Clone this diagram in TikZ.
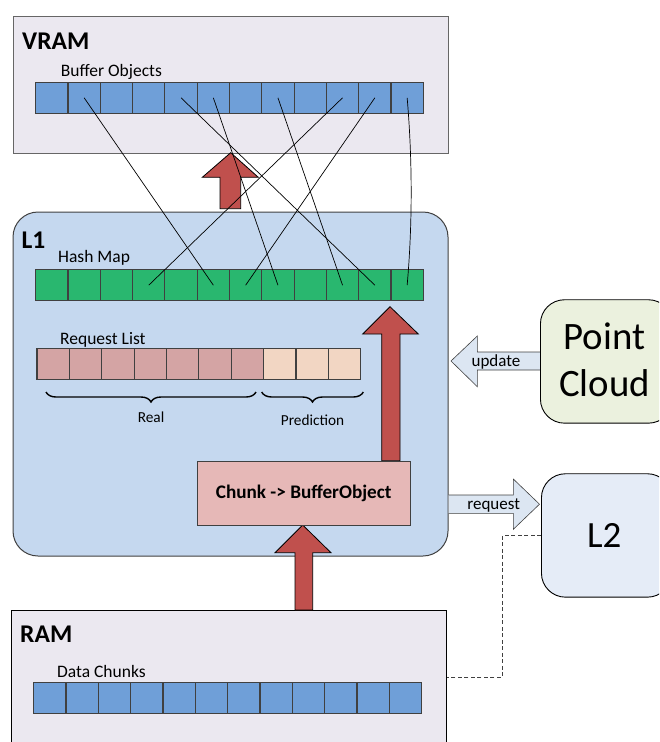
\documentclass[tikz,border=0pt]{standalone}
\usepackage{fontspec}
\setmainfont{Carlito}
\usetikzlibrary{decorations.pathreplacing}

\definecolor{memfill}{HTML}{EBE8F0}
\definecolor{lonefill}{HTML}{C5D8EF}
\definecolor{bluecell}{HTML}{6F9FD8}
\definecolor{greencell}{HTML}{29B76F}
\definecolor{realcell}{HTML}{D4A4A4}
\definecolor{predcell}{HTML}{F2D6C3}
\definecolor{chunkfill}{HTML}{E6B8B7}
\definecolor{bigred}{HTML}{C0504D}
\definecolor{pcfill}{HTML}{EBF1DE}
\definecolor{ltwofill}{HTML}{E5ECF7}
\definecolor{flowfill}{HTML}{DCE6F2}
\definecolor{edgegray}{HTML}{404040}

\tikzset{
  membox/.style={draw=edgegray!80, line width=1pt, fill=memfill, anchor=north west, inner sep=0, outer sep=0},
  cell/.style={draw=edgegray, line width=1.1pt, inner sep=0, outer sep=0, minimum height=31pt},
  redarrow/.style={draw=black, line width=0.8pt, fill=bigred, line join=miter},
  flowarrow/.style={draw=edgegray, line width=0.6pt, fill=flowfill},
  link/.style={draw=black, line width=0.7pt},
  title/.style={font=\fontsize{25.5}{28}\selectfont\bfseries, anchor=base west, inner sep=0},
  label/.style={font=\fontsize{17.5}{20}\selectfont, anchor=base west, inner sep=0},
  small/.style={font=\fontsize{15.3}{18}\selectfont, anchor=base, inner sep=0},
  bracestyle/.style={draw=black, line width=1.4pt, decorate, decoration={brace, mirror, amplitude=10pt, aspect=0.5}},
  dashlink/.style={draw=edgegray, line width=0.9pt, dash pattern=on 4pt off 2.5pt},
}

\begin{document}
\begin{tikzpicture}[x=1pt, y=-1pt]
\useasboundingbox (0,0) rectangle (659,742);
\clip (0,0) rectangle (659,742);

% ---- containers ----
\node[membox, minimum width=435pt, minimum height=137pt] (vram) at (13,16) {};
\node[membox, draw=edgegray, fill=lonefill, rounded corners=25pt, minimum width=435pt, minimum height=344pt] (lone) at (13,212) {};
\node[membox, draw=black, minimum width=435.7pt, minimum height=140pt] (ram) at (11,610) {};

% ---- red transfer arrows ----
\draw[redarrow] (230.7,152.7) -- (258.3,177.3) -- (240.7,177.3) -- (240.7,208.7)
  -- (220,208.7) -- (220,177.3) -- (202.3,177.3) -- cycle;
\draw[redarrow] (390,306.7) -- (418.3,334) -- (400,334) -- (400,460.7)
  -- (381.7,460.7) -- (381.7,334) -- (362.7,334) -- cycle;
\draw[redarrow] (302.7,525) -- (331,552.7) -- (312.7,552.7) -- (312.7,610)
  -- (295,610) -- (295,552.7) -- (275,552.7) -- cycle;

% ---- conversion stage ----
\node[draw=edgegray, line width=1pt, fill=chunkfill, anchor=north west, inner sep=0,
  minimum width=212.7pt, minimum height=64.3pt] (chunk) at (197.3,460.7) {};
\node[font=\fontsize{19.2}{22}\selectfont\bfseries, anchor=base, inner sep=0] (chunktxt)
  at (303.7,498.3) {Chunk -> BufferObject};

% ---- side flows ----
\draw[flowarrow] (451,361) -- (477.3,336) -- (477.3,352) -- (545,352) -- (545,370)
  -- (477.3,370) -- (477.3,386.7) -- cycle;
\draw[flowarrow] (448.5,495) -- (513.3,495) -- (513.3,479) -- (539.5,504.2)
  -- (513.3,529.3) -- (513.3,513.3) -- (448.5,513.3);
\node[font=\fontsize{17}{20}\selectfont, anchor=base, inner sep=0] (updtxt) at (496,366) {update};
\node[font=\fontsize{17}{20}\selectfont, anchor=base, inner sep=0] (reqtxt) at (493.7,509) {request};

\node[draw=black, line width=0.9pt, fill=pcfill, rounded corners=24pt, anchor=north west,
  inner sep=0, minimum width=132pt, minimum height=123.4pt] (pc) at (540,299.3) {};
\node[font=\fontsize{38.8}{40}\selectfont, anchor=base, inner sep=0] (pctop) at (604.5,349.3) {Point};
\node[font=\fontsize{38.8}{40}\selectfont, anchor=base, inner sep=0] (pcbot) at (604.5,396) {Cloud};

\node[draw=black, line width=0.9pt, fill=ltwofill, rounded corners=24pt, anchor=north west,
  inner sep=0, minimum width=130pt, minimum height=123.4pt] (ltwo) at (541,473.3) {};
\node[font=\fontsize{37}{40}\selectfont, anchor=base, inner sep=0] (ltwotxt) at (604.3,547.3) {L2};

\coordinate (dcorner) at (502.3,677.3);
\draw[dashlink] (ltwo.west) -| (dcorner) -- (dcorner -| ram.east);

% ---- titles and labels ----
\node[title] (vramtxt) at (22,49.3) {VRAM};
\node[title] (lonetxt) at (21.5,248) {L1};
\node[title] (ramtxt) at (20,642.3) {RAM};
\node[label] (botxt) at (60.7,76.7) {Buffer Objects};
\node[label] (hmtxt) at (58,262.3) {Hash Map};
\node[label] (rqtxt) at (60,344) {Request List};
\node[label] (dctxt) at (57,677.7) {Data Chunks};

% ---- cell rows ----
\foreach \i in {1,...,12} {
  \pgfmathsetmacro{\cx}{35.7+32.3*(\i-0.5)}
  \node[cell, fill=bluecell, minimum width=32.3pt] (bo-\i) at (\cx,97.8) {};
  \node[cell, fill=greencell, minimum width=32.3pt] (hm-\i) at (\cx,285.2) {};
  \pgfmathsetmacro{\dx}{33.7+32.33*(\i-0.5)}
  \node[cell, fill=bluecell, minimum width=32.33pt] (dc-\i) at (\dx,698.2) {};
}
\foreach \i in {1,...,10} {
  \pgfmathsetmacro{\rx}{37+32.37*(\i-0.5)}
  \ifnum\i<8
    \node[cell, fill=realcell, minimum width=32.37pt] (rq-\i) at (\rx,364.2) {};
  \else
    \node[cell, fill=predcell, minimum width=32.37pt] (rq-\i) at (\rx,364.2) {};
  \fi
}

% ---- braces under the request list ----
\coordinate (realL) at (46,392);
\coordinate (realR) at (256,392);
\coordinate (predL) at (261.7,392);
\coordinate (predR) at (363.3,392);
\draw[bracestyle] (realL) -- (realR);
\draw[bracestyle] (predL) -- (predR);
\node[small] (realtxt) at (151,422.3) {Real};
\node[small] (predtxt) at (312.5,425) {Prediction};

% ---- buffer object to hash map links ----
\draw[link] (bo-2.center) -- (hm-6.center);
\draw[link] (bo-5.center) -- (hm-11.center);
\draw[link] (bo-6.center) -- (hm-8.center);
\draw[link] (bo-8.center) -- (hm-10.center);
\draw[link] (bo-10.center) -- (hm-4.center);
\draw[link] (bo-11.center) -- (hm-7.center);
\draw[link] (bo-12.center) .. controls (412.5,160) and (412.5,225) .. (hm-12.center);
\end{tikzpicture}
\end{document}
